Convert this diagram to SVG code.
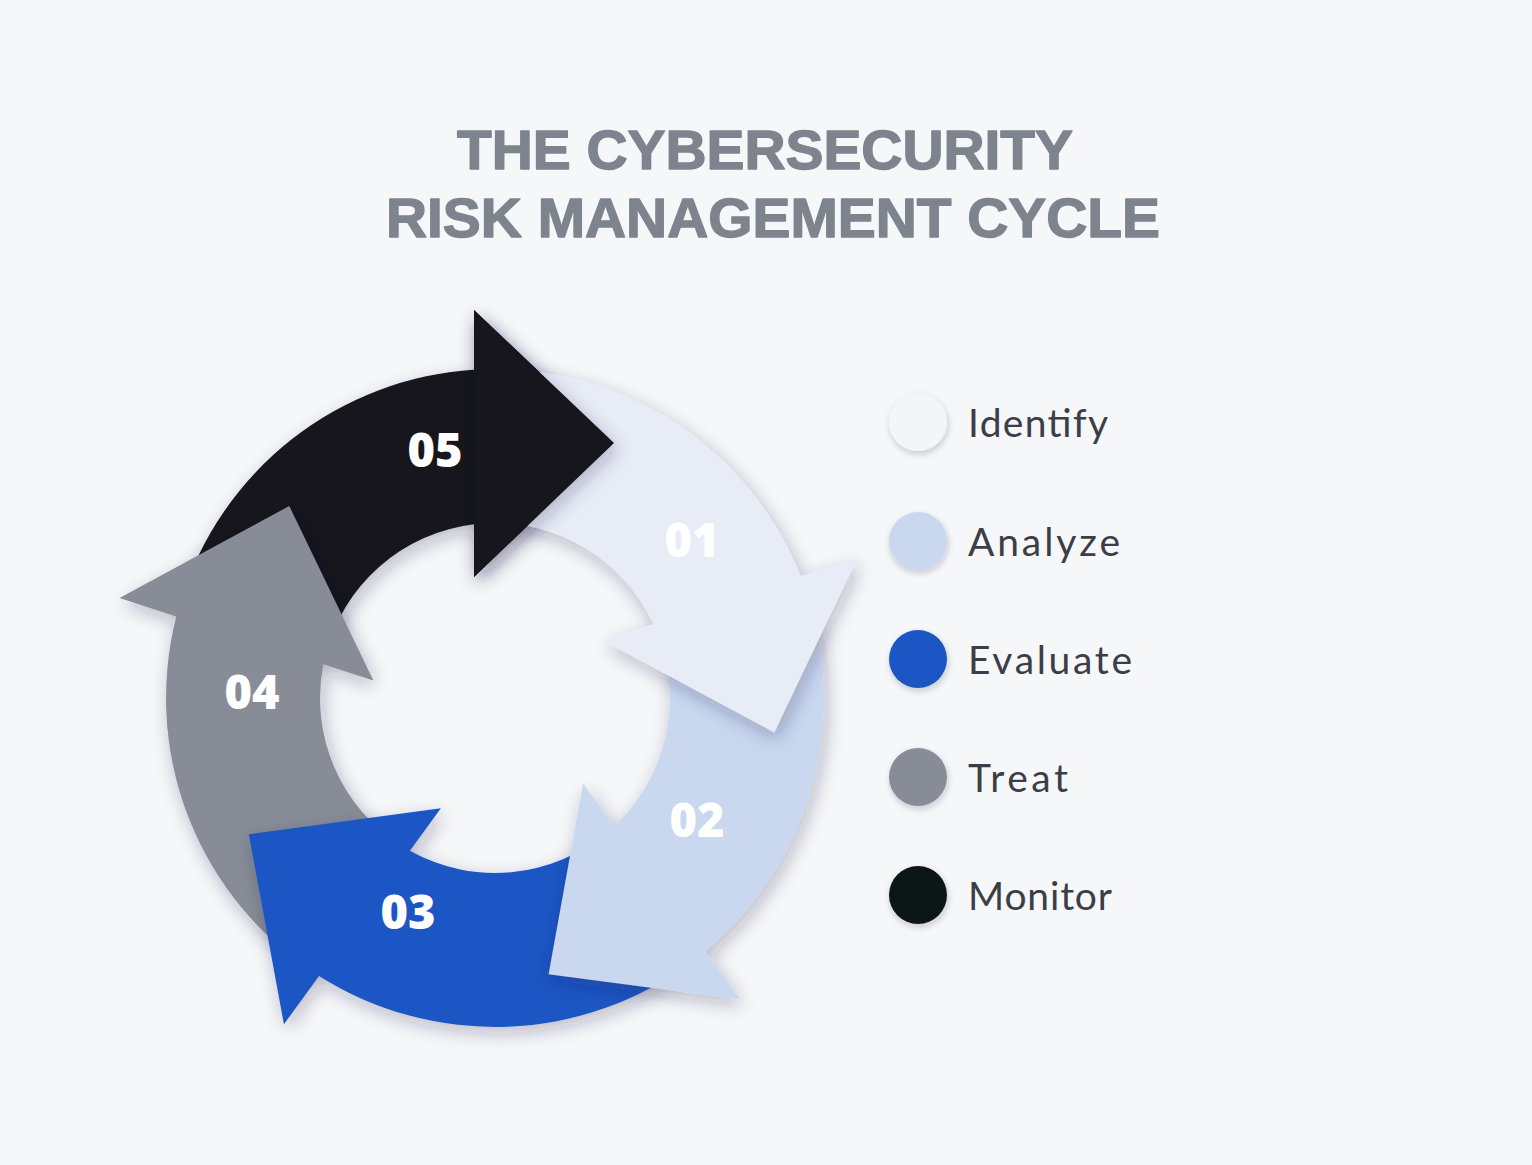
<svg xmlns="http://www.w3.org/2000/svg" xmlns:xlink="http://www.w3.org/1999/xlink" width="1532" height="1165" viewBox="0 0 1532 1165">
  <style>
    .title { font-family: "Liberation Sans", "Open Sans", sans-serif; font-weight: 700; font-size: 56px; fill: #7e848e; stroke: #7e848e; stroke-width: 1.4px; stroke-linejoin: round; }
    .num { font-family: "Open Sans", "Liberation Sans", sans-serif; font-weight: 800; font-size: 47px; fill: #ffffff; text-anchor: middle; }
    .leg { font-family: "Lato", "Liberation Sans", sans-serif; font-size: 39px; fill: #3b3e46; }
  </style>
  <defs>
    <filter id="sh" x="-30%" y="-30%" width="160%" height="160%">
      <feDropShadow dx="3" dy="6" stdDeviation="9" flood-color="#1b2140" flood-opacity="0.28"/>
    </filter>
    <filter id="dotsh" x="-50%" y="-50%" width="200%" height="200%">
      <feDropShadow dx="1" dy="3" stdDeviation="3" flood-color="#1b2140" flood-opacity="0.22"/>
    </filter>
    <path id="arrow" d="M181.0,599.9 A329,329 0 0 1 474,369.7 L474,310 L614,443 L474,577 L474,524.3 A175,175 0 0 0 325.3,655.3 Z"/>
    <path id="head" d="M474,310 L614,443 L474,577 Z"/>
  </defs>

  <rect x="0" y="0" width="1532" height="1165" fill="#f6f7f9"/>

  <g id="title">
    <text class="title" x="457" y="169" textLength="616" lengthAdjust="spacingAndGlyphs">THE CYBERSECURITY</text>
    <text class="title" x="386" y="237" textLength="774" lengthAdjust="spacingAndGlyphs">RISK MANAGEMENT CYCLE</text>
  </g>

  <g id="step-05">
    <g filter="url(#sh)"><use xlink:href="#arrow" href="#arrow" fill="#12141f"/></g>
    <text class="num" x="435" y="467">05</text>
  </g>
  <g id="step-04">
    <g filter="url(#sh)"><use xlink:href="#arrow" href="#arrow" fill="#878c96" transform="rotate(288 495 698)"/></g>
    <text class="num" x="252" y="709">04</text>
  </g>
  <g id="step-03">
    <g filter="url(#sh)"><use xlink:href="#arrow" href="#arrow" fill="#1a56c4" transform="rotate(216 495 698)"/></g>
    <text class="num" x="408" y="929">03</text>
  </g>
  <g id="step-02">
    <g filter="url(#sh)"><use xlink:href="#arrow" href="#arrow" fill="#c9d7ef" transform="rotate(144 495 698)"/></g>
    <text class="num" x="697" y="837">02</text>
  </g>
  <g id="step-01">
    <g filter="url(#sh)"><use xlink:href="#arrow" href="#arrow" fill="#e8ecf7" transform="rotate(72 495 698)"/></g>
    <text class="num" x="692" y="557">01</text>
  </g>
  <g id="step-05-head">
    <g filter="url(#sh)"><use xlink:href="#head" href="#head" fill="#12141f"/></g>
  </g>

  <g id="legend-identify">
    <circle cx="918" cy="422" r="29" fill="#f4f5f9" filter="url(#dotsh)"/>
    <text class="leg" x="968" y="437" textLength="140" lengthAdjust="spacing">Identify</text>
  </g>
  <g id="legend-analyze">
    <circle cx="918" cy="541" r="29" fill="#c9d7ef" filter="url(#dotsh)"/>
    <text class="leg" x="968" y="556" textLength="152" lengthAdjust="spacing">Analyze</text>
  </g>
  <g id="legend-evaluate">
    <circle cx="918" cy="659" r="29" fill="#1a56c4" filter="url(#dotsh)"/>
    <text class="leg" x="968" y="674" textLength="164" lengthAdjust="spacing">Evaluate</text>
  </g>
  <g id="legend-treat">
    <circle cx="918" cy="777" r="29" fill="#878c96" filter="url(#dotsh)"/>
    <text class="leg" x="968" y="792" textLength="100" lengthAdjust="spacing">Treat</text>
  </g>
  <g id="legend-monitor">
    <circle cx="918" cy="895" r="29" fill="#111416" filter="url(#dotsh)"/>
    <text class="leg" x="968" y="910" textLength="144" lengthAdjust="spacing">Monitor</text>
  </g>
</svg>
